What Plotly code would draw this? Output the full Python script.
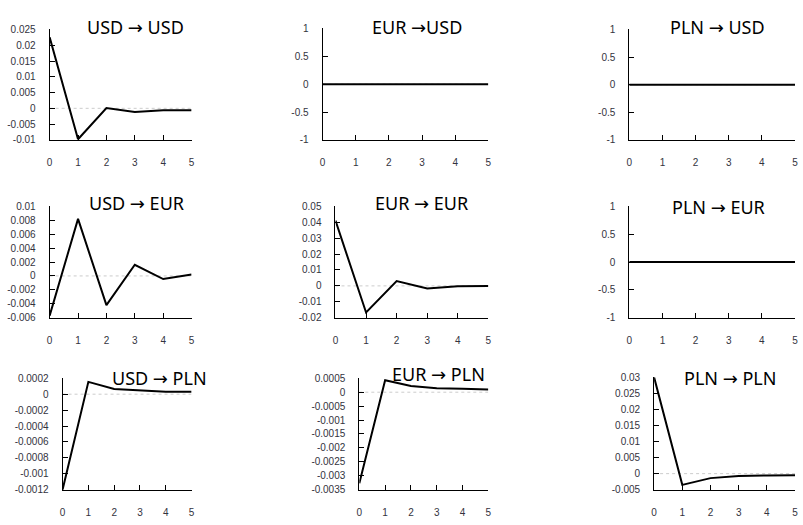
import plotly.graph_objects as go

# Impulse responses over a 5-period horizon (shock -> response)
horizon = [0, 1, 2, 3, 4, 5]

usd_to_usd = [0.0225, -0.0098, 0.0001, -0.0012, -0.0006, -0.0006]
eur_to_usd = [0, 0, 0, 0, 0, 0]
pln_to_usd = [0, 0, 0, 0, 0, 0]
usd_to_eur = [-0.0057, 0.0082, -0.0042, 0.0016, -0.00045, 0.0002]
eur_to_eur = [0.041, -0.0167, 0.003, -0.0017, -0.0003, 0.0]
pln_to_eur = [0, 0, 0, 0, 0, 0]
usd_to_pln = [-0.0012, 0.000155, 0.000065, 0.000045, 0.00003, 0.00003]
eur_to_pln = [-0.00327, 0.00043, 0.00022, 0.00014, 0.00012, 0.0001]
pln_to_pln = [0.03, -0.0035, -0.0014, -0.0007, -0.0006, -0.0005]

titles = [
    "USD → USD", "EUR →USD", "PLN → USD",
    "USD → EUR", "EUR → EUR", "PLN → EUR",
    "USD → PLN", "EUR → PLN", "PLN → PLN",
]

ticks_usd_usd = ["-0.01", "-0.005", "0", "0.005", "0.01", "0.015", "0.02", "0.025"]
ticks_unit = ["-1", "-0.5", "0", "0.5", "1"]
ticks_usd_eur = ["-0.006", "-0.004", "-0.002", "0", "0.002", "0.004", "0.006", "0.008", "0.01"]
ticks_eur_eur = ["-0.02", "-0.01", "0", "0.01", "0.02", "0.03", "0.04", "0.05"]
ticks_usd_pln = ["-0.0012", "-0.001", "-0.0008", "-0.0006", "-0.0004", "-0.0002", "0", "0.0002"]
ticks_eur_pln = ["-0.0035", "-0.003", "-0.0025", "-0.002", "-0.0015", "-0.001", "-0.0005", "0", "0.0005"]
ticks_pln_pln = ["-0.005", "0", "0.005", "0.01", "0.015", "0.02", "0.025", "0.03"]

series = [usd_to_usd, eur_to_usd, pln_to_usd,
          usd_to_eur, eur_to_eur, pln_to_eur,
          usd_to_pln, eur_to_pln, pln_to_pln]
tick_sets = [ticks_usd_usd, ticks_unit, ticks_unit,
             ticks_usd_eur, ticks_eur_eur, ticks_unit,
             ticks_usd_pln, ticks_eur_pln, ticks_pln_pln]

W, H = 803, 525
# panel boxes in pixels: (left, right, top, bottom)
boxes = [
    (47, 190, 24, 137), (322, 489, 23, 137), (631, 798, 24, 137),
    (47, 190, 205, 319), (335, 489, 205, 319), (631, 798, 205, 319),
    (60, 190, 381, 495), (359, 489, 381, 495), (656, 798, 380, 495),
]
# title centres in pixels
title_pos = [
    (133, 22), (417, 22), (720, 22),
    (135, 202), (422, 202), (721, 206),
    (158, 381), (439, 377), (732, 381),
]

fig = go.Figure()
tick_font = dict(family="Liberation Sans, Arial, sans-serif", size=10, color="#333340")

for i, (ys, labels, box, tp, title) in enumerate(zip(series, tick_sets, boxes, title_pos, titles)):
    n = "" if i == 0 else str(i + 1)
    l, r, t, b = box
    vals = [float(v) for v in labels]
    fig.add_trace(go.Scatter(
        x=horizon, y=ys, mode="lines",
        line=dict(color="black", width=2),
        xaxis="x" + n, yaxis="y" + n, showlegend=False,
    ))
    fig.layout["xaxis" + n] = dict(
        domain=[l / W, r / W], anchor="y" + n, range=[0, 5],
        tickvals=horizon, ticktext=[str(h) for h in horizon],
        ticks="inside", ticklen=5, tickcolor="black", tickwidth=1,
        showline=True, linecolor="black", linewidth=1,
        showgrid=False, zeroline=False, tickfont=tick_font,
        ticklabelstandoff=13, fixedrange=True,
    )
    fig.layout["yaxis" + n] = dict(
        domain=[1 - b / H, 1 - t / H], anchor="x" + n,
        range=[min(vals), max(vals)],
        tickvals=vals, ticktext=labels,
        ticks="inside", ticklen=5, tickcolor="black", tickwidth=1,
        showline=True, linecolor="black", linewidth=1,
        showgrid=False, zeroline=False, tickfont=tick_font,
        ticklabelstandoff=11, fixedrange=True,
    )
    # dashed zero reference
    fig.add_shape(type="line", x0=0, x1=5, y0=0, y1=0,
                  xref="x" + n, yref="y" + n, layer="below",
                  line=dict(color="#cccccc", width=1, dash="3px,3px"))
    fig.add_annotation(text=title, x=tp[0] / W, y=1 - tp[1] / H,
                       xref="paper", yref="paper", showarrow=False,
                       xanchor="center", yanchor="middle",
                       font=dict(family="Noto Sans, DejaVu Sans, sans-serif", size=18, color="black"))

fig.update_layout(
    width=W, height=H, margin=dict(l=0, r=0, t=0, b=0),
    paper_bgcolor="white", plot_bgcolor="white",
)

fig.write_html("out.html")
